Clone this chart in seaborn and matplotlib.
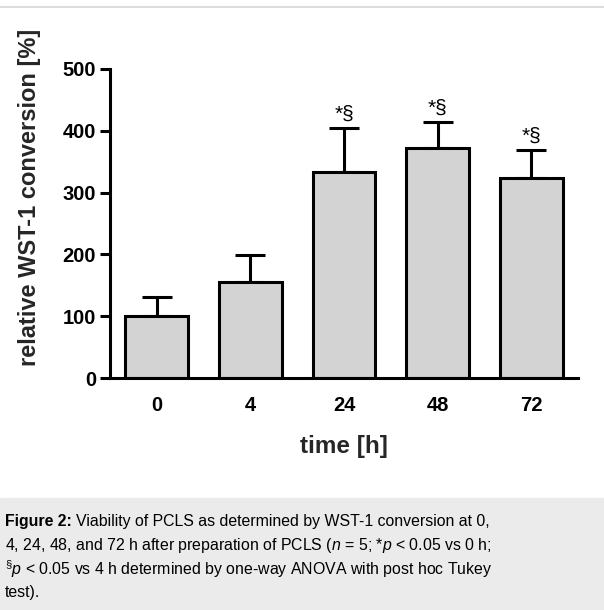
import numpy as np
import pandas as pd
import matplotlib
matplotlib.use("Agg")
import matplotlib.pyplot as plt
import seaborn as sns

# ---------- Data ----------
times = ["0", "4", "24", "48", "72"]
means = [100, 155, 334, 372, 324]
sd_up = [31, 44, 71, 42, 45]
marks = ["", "", "*§", "*§", "*§"]

df = pd.DataFrame({"time": times, "wst1": means})

sns.set_theme(style="ticks")
plt.rcParams["font.family"] = ["Liberation Sans", "DejaVu Sans"]
plt.rcParams["mathtext.fontset"] = "custom"
plt.rcParams["mathtext.rm"] = "Liberation Sans"
plt.rcParams["mathtext.it"] = "Liberation Sans:italic"
plt.rcParams["mathtext.bf"] = "Liberation Sans:bold"

fig = plt.figure(figsize=(6.04, 6.10), dpi=100)
ax = fig.add_axes([0.182, 0.380, 0.775, 0.507])

sns.barplot(data=df, x="time", y="wst1", order=times, color="#d3d3d3",
            width=0.67, edgecolor="black", linewidth=2.2, errorbar=None,
            saturation=1, ax=ax, zorder=2)

xpos = np.arange(len(times))
ax.errorbar(xpos, means, yerr=[np.zeros(len(sd_up)), sd_up], fmt="none",
            ecolor="black", elinewidth=2.2, capsize=11, capthick=2.2, zorder=1)

for x, m, s, lab in zip(xpos, means, sd_up, marks):
    if lab:
        ax.annotate(lab, (x, m + s), xytext=(0, 3), textcoords="offset points",
                    ha="center", va="bottom", fontsize=15, color="black")

ax.set_xlim(-0.5, 4.5)
ax.set_ylim(0, 500)
ax.set_yticks([0, 100, 200, 300, 400, 500])
sns.despine(ax=ax)
for sp in ["left", "bottom"]:
    ax.spines[sp].set_linewidth(2.2)
    ax.spines[sp].set_color("black")
ax.tick_params(axis="y", length=7, width=2.2, pad=3, labelsize=14.5, colors="black")
ax.tick_params(axis="x", length=0, pad=13, labelsize=14.5, colors="black")
for t in ax.get_xticklabels() + ax.get_yticklabels():
    t.set_fontweight("bold")

ax.set_xlabel("time [h]", fontsize=17.5, fontweight="bold")
ax.set_ylabel("relative WST-1 conversion [%]", fontsize=17, fontweight="bold")
ax.xaxis.set_label_coords(0.5, -0.185)
ax.yaxis.set_label_coords(-0.147, 0.586)

# top rule and caption box
fig.add_artist(plt.Line2D([0, 1], [1 - 7 / 610, 1 - 7 / 610], color="#dddddd", lw=1.5))
fig.add_artist(plt.Rectangle((0, 0), 1, 112 / 610, color="#ebebeb", zorder=0))

caption = [
    "Viability of PCLS as determined by WST-1 conversion at 0,",
    r"4, 24, 48, and 72 h after preparation of PCLS ($n$ = 5; *$p$ < 0.05 vs 0 h;",
    r"$^{\mathrm{§}}p$ < 0.05 vs 4 h determined by one-way ANOVA with post hoc Tukey",
    "test).",
]
cap_size = 11.4
x0 = 5 / 604
head = fig.text(x0, 1 - 521.5 / 610, "Figure 2:", fontsize=cap_size, fontweight="bold",
                va="center", ha="left", color="black")
fig.canvas.draw()
bb = head.get_window_extent(renderer=fig.canvas.get_renderer())
head_w = bb.width / fig.bbox.width
for i, line in enumerate(caption):
    xs = x0 + head_w + 4 / 604 if i == 0 else x0
    fig.text(xs, 1 - (521.5 + 23.6 * i) / 610, line, fontsize=cap_size,
             va="center", ha="left", color="black")

fig.savefig("out.png", dpi=100)
